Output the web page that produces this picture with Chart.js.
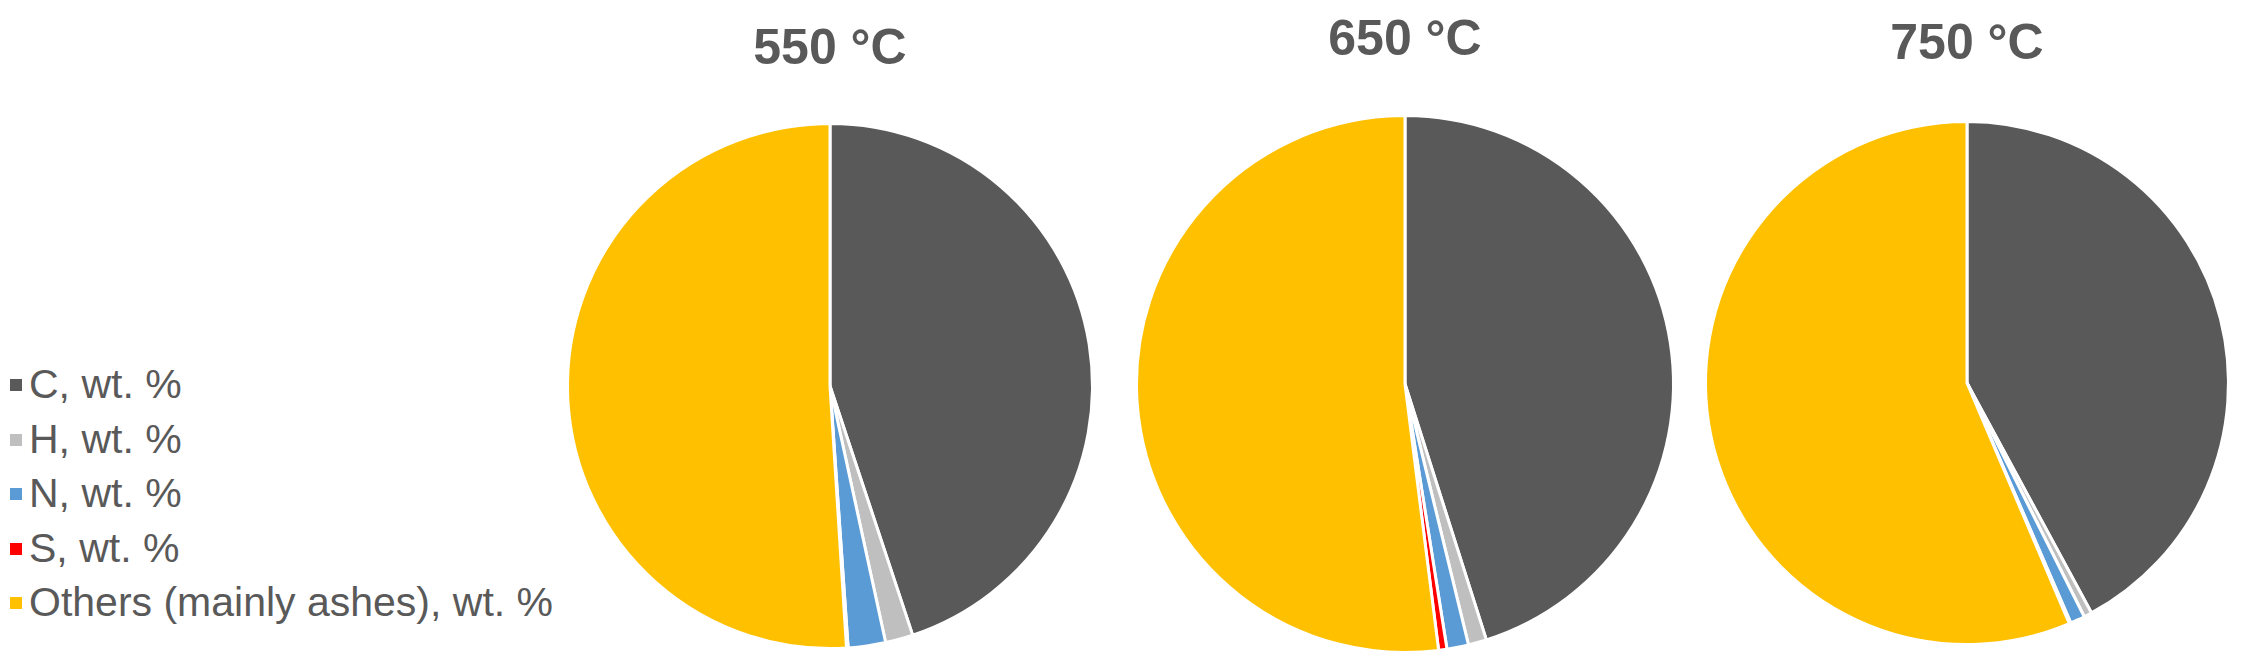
<!DOCTYPE html>
<html>
<head>
<meta charset="utf-8">
<title>Char composition</title>
<script src="https://cdn.jsdelivr.net/npm/chart.js@4.4.1/dist/chart.umd.min.js"></script>
<style>
    body { margin: 0; background: #fff; }
    #wrap { position: relative; width: 2248px; height: 671px; overflow: hidden; font-family: "Liberation Sans", Arial, sans-serif; }
    .pie-box { position: absolute; top: 0; height: 671px; width: 540px; }
    #legend { position: absolute; left: 10px; top: 357px; margin: 0; padding: 0; list-style: none; }
    #legend li { height: 54.5px; line-height: 54.5px; font-size: 41px; color: #595959; white-space: nowrap; }
    #legend span { display: inline-block; width: 12px; height: 12px; margin-right: 7px; vertical-align: middle; position: relative; top: -2px; }
</style>
</head>
<body>
<div id="wrap">
    <ul id="legend"></ul>
    <div class="pie-box" style="left:560px"><canvas id="pie550"></canvas></div>
    <div class="pie-box" style="left:1135px; width:584px"><canvas id="pie650"></canvas></div>
    <div class="pie-box" style="left:1697px"><canvas id="pie750"></canvas></div>
</div>

<script>
// data (wt. %)
var categories = ['C, wt. %', 'H, wt. %', 'N, wt. %', 'S, wt. %', 'Others (mainly ashes), wt. %'];
var temps = ['550 °C', '650 °C', '750 °C'];
var values550 = [44.9, 1.7, 2.3, 0.1, 51.0];
var values650 = [45.1, 1.1, 1.3, 0.5, 52.0];
var values750 = [42.1, 0.5, 0.9, 0.1, 56.4];
var sliceColors = ['#595959', '#BFBFBF', '#5B9BD5', '#FF0000', '#FFC000'];

Chart.defaults.font.family = '"Liberation Sans", Arial, sans-serif';
Chart.defaults.color = '#595959';

// legend on the left
var legend = document.getElementById('legend');
categories.forEach(function (label, i) {
    var li = document.createElement('li');
    var box = document.createElement('span');
    box.style.background = sliceColors[i];
    li.appendChild(box);
    li.appendChild(document.createTextNode(label));
    legend.appendChild(li);
});

function makePie(id, title, values, pad) {
    new Chart(id, {
        type: 'pie',
        data: {
            labels: categories,
            datasets: [{
                data: values,
                backgroundColor: sliceColors,
                borderColor: '#ffffff',
                borderWidth: 3
            }]
        },
        options: {
            responsive: true,
            maintainAspectRatio: false,
            animation: false,
            devicePixelRatio: 1,
            layout: { padding: { bottom: pad.bottom, right: pad.right || 0 } },
            plugins: {
                legend: { display: false },
                tooltip: { enabled: false },
                title: {
                    display: true,
                    text: title,
                    color: '#595959',
                    font: { size: 50, weight: 'bold' },
                    padding: { top: pad.top, bottom: pad.gap }
                }
            }
        }
    });
}

makePie('pie550', temps[0], values550, { top: 20, gap: 42, bottom: 21 });
// 650 title sits a little right of its pie in the original
makePie('pie650', temps[1], values650, { top: 11, gap: 42, bottom: 16, right: 44 });
makePie('pie750', temps[2], values750, { top: 15, gap: 45, bottom: 25 });
</script>
</body>
</html>
